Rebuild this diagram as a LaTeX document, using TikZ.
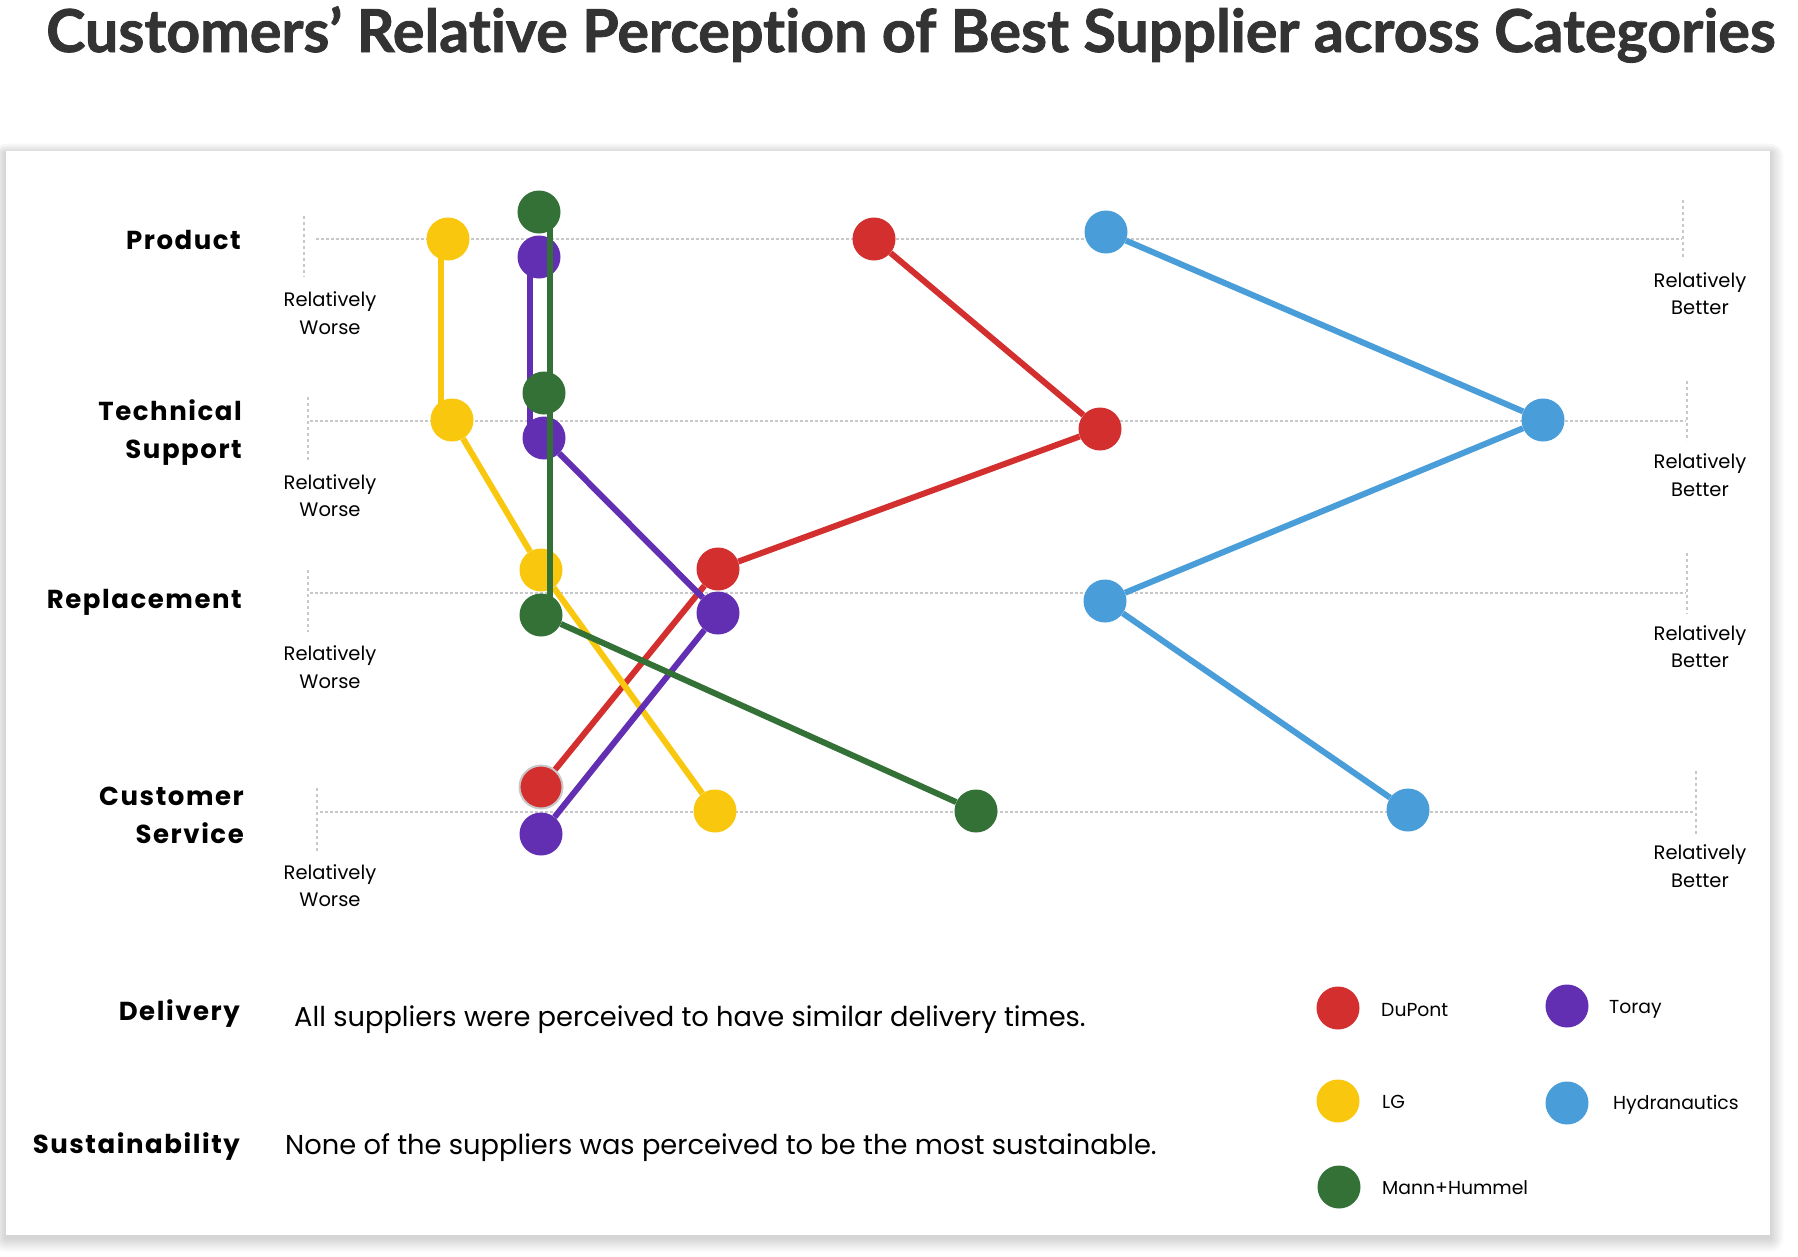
\documentclass[tikz,border=0pt]{standalone}
\usepackage{fontspec}
\setmainfont{Poppins}
\newfontfamily\catfont[LetterSpace=6]{Poppins}
\newfontfamily\titlefont[Ligatures=NoCommon, BoldFeatures={FakeBold=1.4}]{Lato}
\definecolor{cRed}{RGB}{211,47,47}
\definecolor{cYel}{RGB}{249,200,14}
\definecolor{cGrn}{RGB}{51,113,54}
\definecolor{cPur}{RGB}{99,47,178}
\definecolor{cBlu}{RGB}{73,157,216}
\definecolor{cGrid}{RGB}{200,200,200}
\definecolor{cTitle}{RGB}{51,51,51}
\tikzset{
  dot/.style={circle, inner sep=0pt, minimum size=43pt},
  serie/.style={line width=6pt},
  gridline/.style={draw=cGrid, line width=2.5pt, dash pattern=on 2.5pt off 2.5pt},
  tickline/.style={draw=cGrid, line width=2pt, dash pattern=on 3pt off 3pt},
  catlab/.style={anchor=base east, inner sep=0pt, font=\catfont\bfseries\fontsize{26}{30}\selectfont},
  rellab/.style={anchor=base, inner sep=0pt, font=\fontsize{19.5}{23}\selectfont},
  bodytext/.style={anchor=base west, inner sep=0pt, font=\fontsize{27.3}{32}\selectfont},
  legtext/.style={anchor=base west, inner sep=0pt, font=\fontsize{18.8}{23}\selectfont},
}
\begin{document}
\begin{tikzpicture}[x=1pt,y=-1pt]
\useasboundingbox (0,0) rectangle (1798,1256);
\fill[white] (0,0) rectangle (1798,1256);
% title
\node[anchor=base west, inner sep=0pt, text=cTitle] (title) at (46,52) {\resizebox{1729pt}{!}{\titlefont\bfseries\fontsize{58}{70}\selectfont Customers’ Relative Perception of Best Supplier across Categories}};
% card shadow
\foreach \i in {1,...,14}{
  \fill[black, opacity=0.011, rounded corners=\i pt] (6-\i,151-0.7*\i+2) rectangle (1770+\i,1235+\i+3);
}
\fill[white] (6,151) rectangle (1770,1235);
% grid rows
\draw[gridline] (316,239) -- (1682,239);
\draw[gridline] (310,421) -- (1686,421);
\draw[gridline] (310,593) -- (1686,593);
\draw[gridline] (320,812) -- (1694,812);
\draw[tickline] (304,216) -- (304,277);
\draw[tickline] (308,397) -- (308,462);
\draw[tickline] (308,570) -- (308,632);
\draw[tickline] (317,788) -- (317,852);
\draw[tickline] (1683,200) -- (1683,260);
\draw[tickline] (1687,381) -- (1687,441);
\draw[tickline] (1687,553) -- (1687,614);
\draw[tickline] (1696,771) -- (1696,835);
% category labels
\node[catlab] (lP) at (241,249) {Product};
\node[catlab] (lT1) at (242,420) {Technical};
\node[catlab] (lT2) at (242,458) {Support};
\node[catlab] (lR) at (242,608) {Replacement};
\node[catlab] (lC1) at (244,805) {Customer};
\node[catlab] (lC2) at (244,843) {Service};
\node[catlab] (lD) at (240,1020) {Delivery};
\node[catlab] (lS) at (240,1153) {Sustainability};
% relatively worse / better
\node[rellab] (wP1) at (330,306) {Relatively};
\node[rellab] (wP2) at (330,334) {Worse};
\node[rellab] (wT1) at (330,489) {Relatively};
\node[rellab] (wT2) at (330,516) {Worse};
\node[rellab] (wR1) at (330,660) {Relatively};
\node[rellab] (wR2) at (330,688) {Worse};
\node[rellab] (wC1) at (330,879) {Relatively};
\node[rellab] (wC2) at (330,906) {Worse};
\node[rellab] (bP1) at (1700,287) {Relatively};
\node[rellab] (bP2) at (1700,314) {Better};
\node[rellab] (bT1) at (1700,468) {Relatively};
\node[rellab] (bT2) at (1700,496) {Better};
\node[rellab] (bR1) at (1700,640) {Relatively};
\node[rellab] (bR2) at (1700,667) {Better};
\node[rellab] (bC1) at (1700,859) {Relatively};
\node[rellab] (bC2) at (1700,887) {Better};
% Hydranautics (blue)
\node[dot, fill=cBlu] (hP) at (1106,232) {};
\node[dot, fill=cBlu] (hT) at (1543,420) {};
\node[dot, fill=cBlu] (hR) at (1105,601) {};
\node[dot, fill=cBlu] (hC) at (1408,810) {};
\draw[serie, cBlu] (hP) -- (hT) -- (hR) -- (hC);
% DuPont (red)
\node[dot, fill=cRed] (dP) at (874,239) {};
\node[dot, fill=cRed] (dT) at (1100,429) {};
\node[dot, fill=cRed] (dR) at (718,569) {};
\node[dot, fill=cRed, draw=cGrid, line width=2pt] (dC) at (541,787) {};
\draw[serie, cRed] (dP) -- (dT) -- (dR) -- (dC);
% LG (yellow)
\node[dot, fill=cYel] (yP) at (448,239) {};
\node[dot, fill=cYel] (yT) at (452,420) {};
\node[dot, fill=cYel] (yR) at (541,570) {};
\node[dot, fill=cYel] (yC) at (715,811) {};
\draw[serie, cYel] ([xshift=-7pt]yP.center) -- ([xshift=-11pt]yT.center);
\draw[serie, cYel] (yT) -- (yR) -- (yC);
% Toray (purple)
\node[dot, fill=cPur] (pP) at (539,257) {};
\node[dot, fill=cPur] (pT) at (544,438) {};
\node[dot, fill=cPur] (pR) at (718,613) {};
\node[dot, fill=cPur] (pC) at (541,834) {};
\draw[serie, cPur] ([xshift=-9pt]pP.center) -- ([xshift=-14pt]pT.center);
\draw[serie, cPur] (pT) -- (pR) -- (pC);
% Mann+Hummel (green)
\node[dot, fill=cGrn] (gP) at (539,212) {};
\node[dot, fill=cGrn] (gT) at (544,393) {};
\node[dot, fill=cGrn] (gR) at (541,615) {};
\node[dot, fill=cGrn] (gC) at (976,811) {};
\draw[serie, cGrn] ([xshift=11pt]gP.center) -- ([xshift=9pt]gR.center);
\draw[serie, cGrn] (gR) -- (gC);
% bottom texts
\node[bodytext] (tD) at (294,1026) {All suppliers were perceived to have similar delivery times.};
\node[bodytext] (tS) at (285,1154) {None of the suppliers was perceived to be the most sustainable.};
% legend
\node[dot, fill=cRed] (kD) at (1338,1008) {};
\node[legtext] (kDt) at (1381,1016) {DuPont};
\node[dot, fill=cPur] (kT) at (1567,1006) {};
\node[legtext] (kTt) at (1609,1013) {Toray};
\node[dot, fill=cYel] (kL) at (1338,1101) {};
\node[legtext] (kLt) at (1382,1108) {LG};
\node[dot, fill=cBlu] (kH) at (1567,1103) {};
\node[legtext] (kHt) at (1613,1109) {Hydranautics};
\node[dot, fill=cGrn] (kM) at (1339,1187) {};
\node[legtext] (kMt) at (1382,1194) {Mann+Hummel};
\end{tikzpicture}
\end{document}
